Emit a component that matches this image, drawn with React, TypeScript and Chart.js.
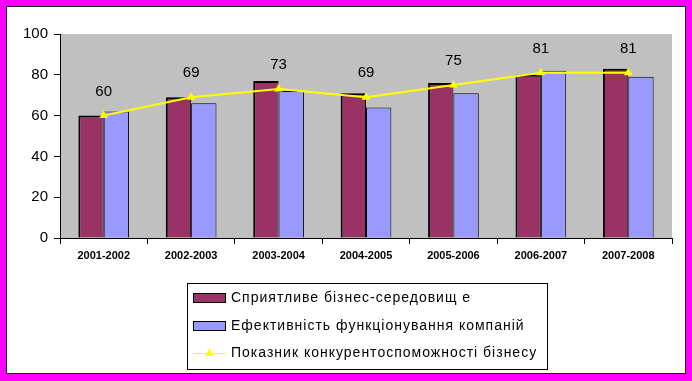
import React, { useEffect, useRef } from "react";
import { Chart, registerables } from "chart.js";

Chart.register(...registerables);

const categories = ["2001-2002", "2002-2003", "2003-2004", "2004-2005", "2005-2006", "2006-2007", "2007-2008"];
const businessEnv = [60, 69, 77, 71, 76, 80, 83];
const companyEff = [62, 66, 72, 64, 71, 82, 79];
const competitiveness = [60, 69, 73, 69, 75, 81, 81];
const seriesNames = [
  "Сприятливе бізнес-середовищ е",
  "Ефективність функціонування компаній",
  "Показник конкурентоспоможності бізнесу",
];
const yTicks = [0, 20, 40, 60, 80, 100];

const FONT = "'Liberation Sans', Arial, sans-serif";

const framePlugin = {
  id: "frame",
  beforeDraw(chart: any) {
    const { ctx, width, height, chartArea } = chart;
    ctx.save();
    ctx.fillStyle = "#FF00FF";
    ctx.fillRect(0, 0, width, height);
    ctx.fillStyle = "#FFFFFF";
    ctx.fillRect(6, 6, 680, 368);
    ctx.strokeStyle = "#222";
    ctx.lineWidth = 1;
    ctx.strokeRect(6.5, 6.5, 679, 367);
    ctx.fillStyle = "#C0C0C0";
    ctx.fillRect(chartArea.left, chartArea.top, chartArea.right - chartArea.left, chartArea.bottom - chartArea.top);
    ctx.restore();
  },
  afterDatasetsDraw(chart: any) {
    const { ctx } = chart;
    const meta = chart.getDatasetMeta(2);
    ctx.save();
    ctx.font = `15px ${FONT}`;
    ctx.fillStyle = "#000";
    ctx.textAlign = "center";
    ctx.textBaseline = "middle";
    meta.data.forEach((pt: any, i: number) => {
      ctx.fillText(String(competitiveness[i]), pt.x, pt.y - 24);
    });
    ctx.restore();
  },
  afterDraw(chart: any) {
    const { ctx } = chart;
    ctx.save();
    ctx.fillStyle = "#fff";
    ctx.fillRect(187, 283, 360, 86);
    ctx.strokeStyle = "#000";
    ctx.lineWidth = 1;
    ctx.strokeRect(187.5, 283.5, 360, 86);
    const rows = [298, 326, 353];
    const ds = chart.data.datasets;
    ctx.font = `14px ${FONT}`;
    ctx.textBaseline = "middle";
    ctx.textAlign = "left";
    (ctx as any).letterSpacing = "1px";
    for (let i = 0; i < 3; i++) {
      const y = rows[i];
      if (i < 2) {
        ctx.fillStyle = ds[i].backgroundColor;
        ctx.fillRect(193, y - 5, 33, 10);
        ctx.strokeStyle = "#000";
        ctx.lineWidth = 1;
        ctx.strokeRect(193.5, y - 4.5, 32, 9);
      } else {
        ctx.strokeStyle = "#FFFF00";
        ctx.lineWidth = 1;
        ctx.beginPath();
        ctx.moveTo(193, y + 0.5);
        ctx.lineTo(226, y + 0.5);
        ctx.stroke();
        ctx.fillStyle = "#FFFF00";
        ctx.beginPath();
        ctx.moveTo(209.5, y - 5);
        ctx.lineTo(214, y + 3);
        ctx.lineTo(205, y + 3);
        ctx.closePath();
        ctx.fill();
      }
      ctx.fillStyle = "#000";
      ctx.fillText(seriesNames[i], 231, y);
    }
    ctx.restore();
  },
};

export default function App() {
  const ref = useRef<HTMLCanvasElement>(null);
  useEffect(() => {
    document.body.style.margin = "0";
    const chart = new Chart(ref.current!, {
      data: {
        labels: categories,
        datasets: [
          {
            type: "bar",
            label: seriesNames[0],
            data: businessEnv,
            backgroundColor: "#993366",
            borderColor: "#000",
            borderWidth: { top: 2, left: 2, right: 1, bottom: 0 } as any,
            categoryPercentage: 0.58,
            barPercentage: 1,
            order: 2,
          },
          {
            type: "bar",
            label: seriesNames[1],
            data: companyEff,
            backgroundColor: "#9999FF",
            borderColor: "#000",
            borderWidth: { top: 1, left: 1, right: 1, bottom: 0 } as any,
            categoryPercentage: 0.58,
            barPercentage: 1,
            order: 2,
          },
          {
            type: "line",
            label: seriesNames[2],
            data: competitiveness,
            borderColor: "#FFFF00",
            backgroundColor: "#FFFF00",
            borderWidth: 2,
            pointStyle: "triangle",
            pointRadius: 5,
            pointBorderWidth: 0,
            tension: 0,
            order: 1,
          },
        ],
      } as any,
      options: {
        animation: false,
        responsive: false,
        maintainAspectRatio: false,
        layout: { padding: { left: 0, top: 34, right: 20, bottom: 113 } },
        plugins: { legend: { display: false }, tooltip: { enabled: false } },
        scales: {
          x: {
            offset: true,
            grid: { offset: true, drawOnChartArea: false, drawTicks: true, tickLength: 6, color: "#000" },
            border: { color: "#000", width: 1 },
            ticks: { color: "#000", font: { family: FONT, size: 11, weight: "bold" }, padding: 5, maxRotation: 0 },
            afterFit: (s: any) => { s.height = 30; },
          },
          y: {
            min: 0,
            max: 100,
            afterBuildTicks: (s: any) => { s.ticks = yTicks.map((v) => ({ value: v })); },
            grid: { drawOnChartArea: false, drawTicks: true, tickLength: 6, color: "#000" },
            border: { color: "#000", width: 1 },
            ticks: { color: "#000", font: { family: FONT, size: 15 }, padding: 6 },
            afterFit: (s: any) => { s.width = 60; },
          },
        },
      } as any,
      plugins: [framePlugin],
    });
    return () => chart.destroy();
  }, []);
  return (
    <div style={{ width: 692, height: 381 }}>
      <canvas ref={ref} width={692} height={381} style={{ display: "block", width: 692, height: 381 }} />
    </div>
  );
}
